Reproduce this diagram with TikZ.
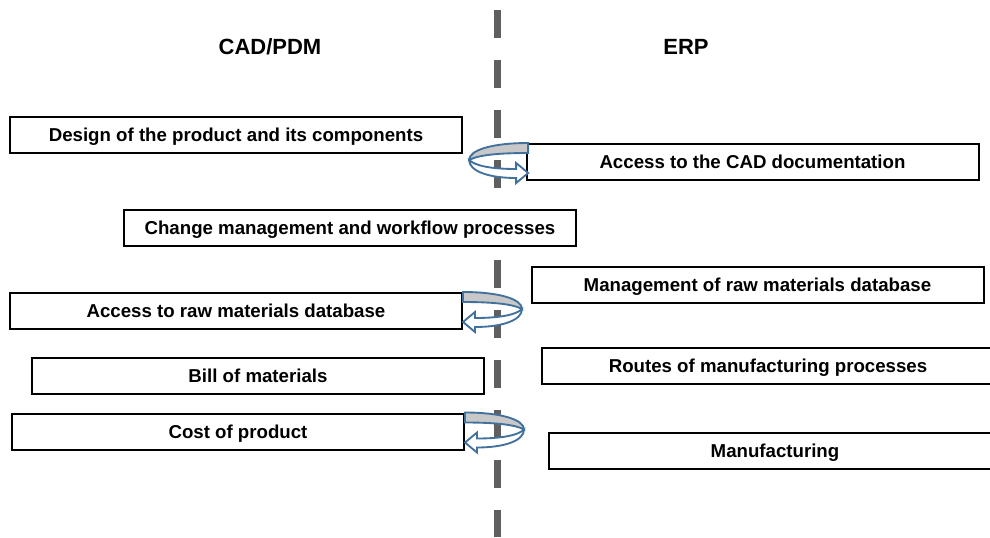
\documentclass[tikz,border=0pt]{standalone}
\usepackage{fontspec}
\setmainfont{Liberation Sans}
\definecolor{loopblue}{HTML}{41719C}
\definecolor{loopgray}{HTML}{C8C8C8}
\definecolor{splitgray}{HTML}{5F5F5F}
\tikzset{
  task/.style={draw,line width=1.5pt,minimum width=339pt,minimum height=27pt,inner sep=0pt,text height=13pt,text depth=2.8pt,font=\fontsize{14}{16}\selectfont\bfseries},
  side/.style={font=\fontsize{16.5}{18}\selectfont\bfseries},
  turnloop/.pic={
    \filldraw[fill=loopgray,draw=loopblue,line width=1.4pt] (0,0) .. controls (36,0) and (59,7) .. (59,17) .. controls (50,12) and (30,10) .. (0,10) -- cycle;
    \filldraw[fill=white,draw=loopblue,line width=1.4pt] (59,17) .. controls (59,28) and (40,35) .. (12,35) -- (12,40) -- (0,30) -- (12,20) -- (12,26) .. controls (36,26) and (53,23) .. (59,17) -- cycle;
  }
}
\begin{document}
\begin{tikzpicture}[x=0.75pt,y=-0.75pt]
\useasboundingbox (0,0) rectangle (990,537);
\draw[splitgray,line width=5.25pt,dash pattern=on 21pt off 16.5pt] (497,10) -- (497,537);
\node[side] (cadpdm) at (270,47) {CAD/PDM};
\node[side] (erp) at (686,47) {ERP};
\node[task] (design) at (236,134.5) {Design of the product and its components};
\node[task] (cadaccess) at (752.5,162) {Access to the CAD documentation};
\node[task,fill=white] (change) at (350,228) {Change management and workflow processes};
\node[task] (rawmgmt) at (757.5,284.5) {Management of raw materials database};
\node[task] (rawaccess) at (236,311) {Access to raw materials database};
\node[task] (routes) at (768,365.5) {Routes of manufacturing processes};
\node[task] (bom) at (258,376) {Bill of materials};
\node[task] (cost) at (238,431.5) {Cost of product};
\node[task] (manuf) at (775,451) {Manufacturing};
\pic[xscale=-1] at ([xshift=2pt]cadaccess.north west) {turnloop};
\pic at (rawaccess.north east) {turnloop};
\pic at (cost.north east) {turnloop};
\end{tikzpicture}
\end{document}
